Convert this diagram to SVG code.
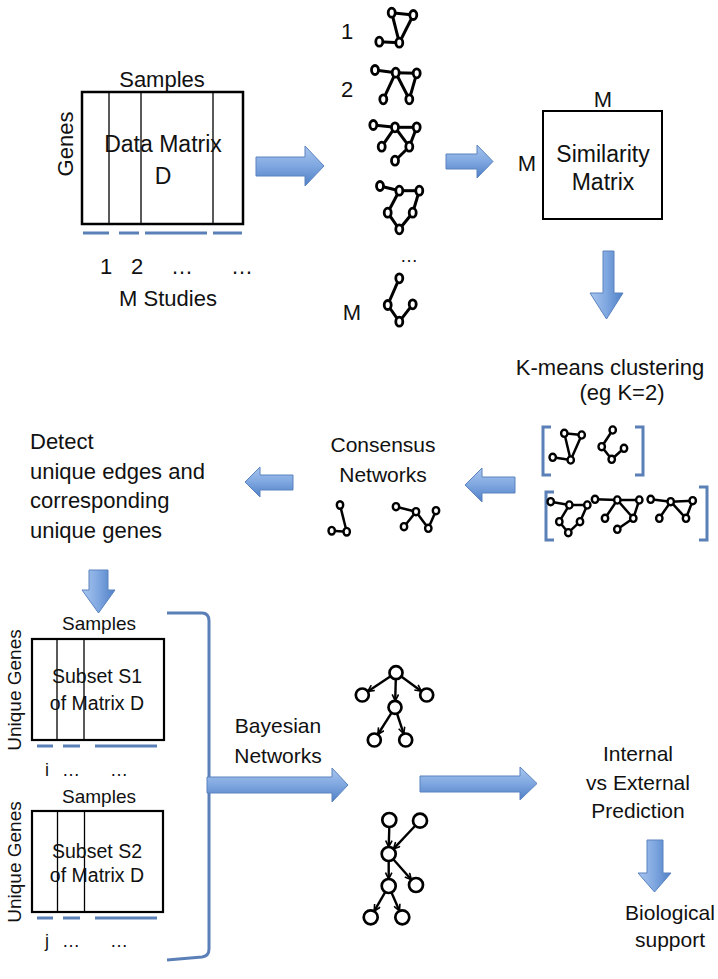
<svg xmlns="http://www.w3.org/2000/svg" width="718" height="979" viewBox="0 0 718 979">
<defs>
<linearGradient id="gh" x1="0" y1="0" x2="0" y2="1">
<stop offset="0" stop-color="#a9c6ef"/><stop offset="0.5" stop-color="#7fa7e0"/><stop offset="1" stop-color="#4f7fc6"/>
</linearGradient>
<linearGradient id="gv" x1="0" y1="0" x2="1" y2="0">
<stop offset="0" stop-color="#a9c6ef"/><stop offset="0.5" stop-color="#7fa7e0"/><stop offset="1" stop-color="#4f7fc6"/>
</linearGradient>
<marker id="ah" viewBox="0 0 10 10" refX="9" refY="5" markerWidth="8" markerHeight="8" markerUnits="userSpaceOnUse" orient="auto">
<path d="M1,1 L9,5 L1,9" fill="none" stroke="#000" stroke-width="2"/>
</marker>
<style>
text{font-family:"Liberation Sans",Arial,sans-serif;fill:#111;font-size:22px}
.m{text-anchor:middle}
.box{fill:#fff;stroke:#000;stroke-width:2.5}
.thin{stroke:#000;stroke-width:1.3}
.ul{stroke:#5b80b8;stroke-width:3;fill:none}
.ah{fill:url(#gh);stroke:#5a83bf;stroke-width:1}
.av{fill:url(#gv);stroke:#5a83bf;stroke-width:1}
.net line{stroke:#000;stroke-width:3}
.net ellipse{fill:#fff;stroke:#000;stroke-width:2.8}
.sm line{stroke:#000;stroke-width:2.5}
.sm ellipse{fill:#fff;stroke:#000;stroke-width:2.4}
.bn line{stroke:#000;stroke-width:2.4;marker-end:url(#ah)}
.bn circle{fill:#fff;stroke:#000;stroke-width:2.7}
</style>
</defs>
<rect width="718" height="979" fill="#fff"/>

<g id="data-matrix">
<text class="m" x="162" y="87">Samples</text>
<text class="m" transform="translate(73,144) rotate(-90)">Genes</text>
<rect class="box" x="82" y="92" width="161" height="132"/>
<line class="thin" x1="109" y1="92" x2="109" y2="224"/>
<line class="thin" x1="141" y1="92" x2="141" y2="224"/>
<line class="thin" x1="213" y1="92" x2="213" y2="224"/>
<text class="m" x="163" y="152" style="font-size:23px">Data Matrix</text>
<text class="m" x="163" y="184" style="font-size:23px">D</text>
<path class="ul" d="M83,233H109M119,233H139M145,233H207M213,233H242"/>
<text class="m" x="106" y="274">1</text>
<text class="m" x="137" y="274">2</text>
<text class="m" x="182" y="274">…</text>
<text class="m" x="242" y="274">…</text>
<text class="m" x="168" y="306">M Studies</text>
</g>

<g id="glasso-networks">
<text class="m" x="347" y="39">1</text>
<text class="m" x="347" y="97">2</text>
<g class="net">
<line x1="391.7" y1="12.7" x2="413.3" y2="15"/><line x1="413.3" y1="15" x2="399.3" y2="42.7"/><line x1="391.7" y1="12.7" x2="399.3" y2="42.7"/><line x1="399.3" y1="42.7" x2="379.3" y2="41.7"/>
<ellipse cx="391.7" cy="12.7" rx="3.5" ry="4.5"/><ellipse cx="413.3" cy="15" rx="3.5" ry="4.5"/><ellipse cx="399.3" cy="42.7" rx="3.5" ry="4.5"/><ellipse cx="379.3" cy="41.7" rx="3.5" ry="4.5"/>
</g>
<g class="net">
<line x1="375" y1="70" x2="395.7" y2="72.7"/><line x1="395.7" y1="72.7" x2="416.7" y2="73.3"/><line x1="395.7" y1="72.7" x2="383.3" y2="99.3"/><line x1="395.7" y1="72.7" x2="409.3" y2="99.3"/><line x1="416.7" y1="73.3" x2="409.3" y2="99.3"/>
<ellipse cx="375" cy="70" rx="3.5" ry="4.5"/><ellipse cx="395.7" cy="72.7" rx="3.5" ry="4.5"/><ellipse cx="416.7" cy="73.3" rx="3.5" ry="4.5"/><ellipse cx="383.3" cy="99.3" rx="3.5" ry="4.5"/><ellipse cx="409.3" cy="99.3" rx="3.5" ry="4.5"/>
</g>
<g class="net">
<line x1="373.3" y1="125" x2="395" y2="127.3"/><line x1="395" y1="127.3" x2="416.7" y2="127.3"/><line x1="395" y1="127.3" x2="381.7" y2="146.7"/><line x1="395" y1="127.3" x2="409.3" y2="146.7"/><line x1="416.7" y1="127.3" x2="409.3" y2="146.7"/><line x1="409.3" y1="146.7" x2="395" y2="160.7"/>
<ellipse cx="373.3" cy="125" rx="3.5" ry="4.5"/><ellipse cx="395" cy="127.3" rx="3.5" ry="4.5"/><ellipse cx="416.7" cy="127.3" rx="3.5" ry="4.5"/><ellipse cx="381.7" cy="146.7" rx="3.5" ry="4.5"/><ellipse cx="409.3" cy="146.7" rx="3.5" ry="4.5"/><ellipse cx="395" cy="160.7" rx="3.5" ry="4.5"/>
</g>
<g class="net">
<line x1="380" y1="186" x2="399.3" y2="190.7"/><line x1="399.3" y1="190.7" x2="419.3" y2="190.7"/><line x1="399.3" y1="190.7" x2="387.7" y2="212.7"/><line x1="419.3" y1="190.7" x2="412.7" y2="212.7"/><line x1="387.7" y1="212.7" x2="399.3" y2="229.3"/><line x1="412.7" y1="212.7" x2="399.3" y2="229.3"/>
<ellipse cx="380" cy="186" rx="3.5" ry="4.5"/><ellipse cx="399.3" cy="190.7" rx="3.5" ry="4.5"/><ellipse cx="419.3" cy="190.7" rx="3.5" ry="4.5"/><ellipse cx="387.7" cy="212.7" rx="3.5" ry="4.5"/><ellipse cx="412.7" cy="212.7" rx="3.5" ry="4.5"/><ellipse cx="399.3" cy="229.3" rx="3.5" ry="4.5"/>
</g>
<text class="m" x="409" y="262" style="font-size:18px">…</text>
<g class="net">
<line x1="399.3" y1="278.3" x2="387.7" y2="305"/><line x1="387.7" y1="305" x2="399.3" y2="321.7"/><line x1="399.3" y1="321.7" x2="412.7" y2="304.3"/>
<ellipse cx="399.3" cy="278.3" rx="3.5" ry="4.5"/><ellipse cx="387.7" cy="305" rx="3.5" ry="4.5"/><ellipse cx="412.7" cy="304.3" rx="3.5" ry="4.5"/><ellipse cx="399.3" cy="321.7" rx="3.5" ry="4.5"/>
</g>
<text class="m" x="352" y="320">M</text>
</g>

<g id="similarity-matrix">
<text class="m" x="603" y="107">M</text>
<text class="m" x="527" y="171">M</text>
<rect class="box" x="543" y="111" width="119" height="108" style="stroke-width:2"/>
<text class="m" x="603" y="162" style="font-size:23px">Similarity</text>
<text class="m" x="603" y="190" style="font-size:23px">Matrix</text>
</g>

<g id="kmeans-clustering">
<text class="m" x="610" y="375">K-means clustering</text>
<text class="m" x="622" y="400">(eg K=2)</text>
<path class="ul" d="M551,427H543V475H551M635,427H643V475H635M554,492H546V540H554M699,487H707V540H699"/>
<g class="sm">
<line x1="564.3" y1="433.3" x2="581.7" y2="435"/><line x1="581.7" y1="435" x2="570.7" y2="460"/><line x1="564.3" y1="433.3" x2="570.7" y2="460"/><line x1="570.7" y1="460" x2="552.7" y2="457.3"/>
<ellipse cx="564.3" cy="433.3" rx="3.2" ry="3.6"/><ellipse cx="581.7" cy="435" rx="3.2" ry="3.6"/><ellipse cx="570.7" cy="460" rx="3.2" ry="3.6"/><ellipse cx="552.7" cy="457.3" rx="3.2" ry="3.6"/>
</g>
<g class="sm">
<line x1="612.7" y1="430" x2="601.7" y2="446.7"/><line x1="601.7" y1="446.7" x2="611.7" y2="459.3"/><line x1="611.7" y1="459.3" x2="624" y2="448.3"/>
<ellipse cx="612.7" cy="430" rx="3.2" ry="3.6"/><ellipse cx="601.7" cy="446.7" rx="3.2" ry="3.6"/><ellipse cx="624" cy="448.3" rx="3.2" ry="3.6"/><ellipse cx="611.7" cy="459.3" rx="3.2" ry="3.6"/>
</g>
<g class="sm">
<line x1="550.7" y1="501.7" x2="569.3" y2="505"/><line x1="569.3" y1="505" x2="587.3" y2="505"/><line x1="569.3" y1="505" x2="559.3" y2="521.7"/><line x1="587.3" y1="505" x2="580" y2="521.7"/><line x1="559.3" y1="521.7" x2="568.3" y2="532.7"/><line x1="580" y1="521.7" x2="568.3" y2="532.7"/>
<ellipse cx="550.7" cy="501.7" rx="3.2" ry="3.6"/><ellipse cx="569.3" cy="505" rx="3.2" ry="3.6"/><ellipse cx="587.3" cy="505" rx="3.2" ry="3.6"/><ellipse cx="559.3" cy="521.7" rx="3.2" ry="3.6"/><ellipse cx="580" cy="521.7" rx="3.2" ry="3.6"/><ellipse cx="568.3" cy="532.7" rx="3.2" ry="3.6"/>
</g>
<g class="sm">
<line x1="595" y1="499.3" x2="617.3" y2="500"/><line x1="617.3" y1="500" x2="639.3" y2="500"/><line x1="617.3" y1="500" x2="605" y2="518.3"/><line x1="617.3" y1="500" x2="633.3" y2="518.3"/><line x1="639.3" y1="500" x2="633.3" y2="518.3"/><line x1="633.3" y1="518.3" x2="617.3" y2="529.3"/>
<ellipse cx="595" cy="499.3" rx="3.2" ry="3.6"/><ellipse cx="617.3" cy="500" rx="3.2" ry="3.6"/><ellipse cx="639.3" cy="500" rx="3.2" ry="3.6"/><ellipse cx="605" cy="518.3" rx="3.2" ry="3.6"/><ellipse cx="633.3" cy="518.3" rx="3.2" ry="3.6"/><ellipse cx="617.3" cy="529.3" rx="3.2" ry="3.6"/>
</g>
<g class="sm">
<line x1="650.7" y1="499.3" x2="670.7" y2="501.7"/><line x1="670.7" y1="501.7" x2="692.7" y2="500.7"/><line x1="670.7" y1="501.7" x2="659.3" y2="518.3"/><line x1="670.7" y1="501.7" x2="686" y2="518.3"/><line x1="692.7" y1="500.7" x2="686" y2="518.3"/>
<ellipse cx="650.7" cy="499.3" rx="3.2" ry="3.6"/><ellipse cx="670.7" cy="501.7" rx="3.2" ry="3.6"/><ellipse cx="692.7" cy="500.7" rx="3.2" ry="3.6"/><ellipse cx="659.3" cy="518.3" rx="3.2" ry="3.6"/><ellipse cx="686" cy="518.3" rx="3.2" ry="3.6"/>
</g>
</g>

<g id="consensus-networks">
<text class="m" x="383" y="452" style="font-size:21px">Consensus</text>
<text class="m" x="383" y="482" style="font-size:21px">Networks</text>
<g class="sm">
<line x1="340" y1="505" x2="346.7" y2="531.7"/><line x1="346.7" y1="531.7" x2="331.7" y2="530.7"/>
<ellipse cx="340" cy="505" rx="3.2" ry="3.8"/><ellipse cx="346.7" cy="531.7" rx="3.2" ry="3.8"/><ellipse cx="331.7" cy="530.7" rx="3.2" ry="3.8"/>
</g>
<g class="sm">
<line x1="396" y1="506.7" x2="416" y2="511.7"/><line x1="416" y1="511.7" x2="404" y2="526.7"/><line x1="416" y1="511.7" x2="428.3" y2="528.3"/><line x1="428.3" y1="528.3" x2="436" y2="510.7"/>
<ellipse cx="396" cy="506.7" rx="3.2" ry="3.6"/><ellipse cx="416" cy="511.7" rx="3.2" ry="3.6"/><ellipse cx="436" cy="510.7" rx="3.2" ry="3.6"/><ellipse cx="404" cy="526.7" rx="3.2" ry="3.6"/><ellipse cx="428.3" cy="528.3" rx="3.2" ry="3.6"/>
</g>
</g>

<g id="detect-unique">
<text x="30" y="449">Detect</text>
<text x="30" y="479">unique edges and</text>
<text x="30" y="508">corresponding</text>
<text x="30" y="538">unique genes</text>
</g>

<g id="subset-s1">
<text class="m" x="99" y="630" style="font-size:19px">Samples</text>
<text class="m" transform="translate(21,690) rotate(-90)" style="font-size:19px">Unique Genes</text>
<rect class="box" x="32" y="639" width="132" height="101" style="stroke-width:2.2"/>
<line class="thin" x1="57" y1="639" x2="57" y2="740"/>
<line class="thin" x1="84" y1="639" x2="84" y2="740"/>
<text class="m" x="97" y="683" style="font-size:19.5px">Subset S1</text>
<text class="m" x="97" y="710" style="font-size:19.5px">of Matrix D</text>
<path class="ul" d="M37,746H53M63,746H80M95,746H157"/>
<text class="m" x="47" y="776" style="font-size:18px">i</text>
<text class="m" x="71" y="776" style="font-size:18px">…</text>
<text class="m" x="119" y="776" style="font-size:18px">…</text>
</g>

<g id="subset-s2">
<text class="m" x="99" y="803" style="font-size:19px">Samples</text>
<text class="m" transform="translate(21,862) rotate(-90)" style="font-size:19px">Unique Genes</text>
<rect class="box" x="32" y="811" width="131" height="101" style="stroke-width:2.2"/>
<line class="thin" x1="57.5" y1="811" x2="57.5" y2="912"/>
<line class="thin" x1="84.5" y1="811" x2="84.5" y2="912"/>
<text class="m" x="97" y="858" style="font-size:19.5px">Subset S2</text>
<text class="m" x="97" y="882" style="font-size:19.5px">of Matrix D</text>
<path class="ul" d="M37,918H53M63,918H80M95,918H157"/>
<text class="m" x="47" y="947" style="font-size:18px">j</text>
<text class="m" x="71" y="947" style="font-size:18px">…</text>
<text class="m" x="119" y="947" style="font-size:18px">…</text>
</g>

<g id="bayesian-networks">
<text class="m" x="278" y="733" style="font-size:21px">Bayesian</text>
<text class="m" x="278" y="763" style="font-size:21px">Networks</text>
<g class="bn">
<line x1="390.6" y1="676.3" x2="367.7" y2="691.4"/>
<line x1="395.8" y1="679.2" x2="395.2" y2="700.8"/>
<line x1="401.3" y1="676.5" x2="421.4" y2="691.2"/>
<line x1="391.5" y1="712.8" x2="377.8" y2="734.5"/>
<line x1="397" y1="713.5" x2="403.7" y2="733.8"/>
<circle cx="396" cy="672.7" r="6.5"/><circle cx="362.3" cy="695" r="6.5"/><circle cx="426.7" cy="695" r="6.5"/><circle cx="395" cy="707.3" r="6.5"/><circle cx="374.3" cy="740" r="6.5"/><circle cx="405.7" cy="740" r="6.5"/>
</g>
<g class="bn">
<line x1="389.3" y1="827" x2="388.7" y2="847"/>
<line x1="415.2" y1="825.8" x2="393.5" y2="848.9"/>
<line x1="388.7" y1="861" x2="388.7" y2="879"/>
<line x1="393.3" y1="859.3" x2="411.4" y2="879.7"/>
<line x1="385.2" y1="892.1" x2="374.2" y2="911.2"/>
<line x1="391.5" y1="892.4" x2="399.5" y2="910.9"/>
<circle cx="389.3" cy="820" r="7"/><circle cx="420" cy="820.7" r="7"/><circle cx="388.7" cy="854" r="7"/><circle cx="416" cy="885" r="7"/><circle cx="388.7" cy="886" r="7"/><circle cx="370.7" cy="917.3" r="7"/><circle cx="402.3" cy="917.3" r="7"/>
</g>
</g>

<g id="prediction">
<text class="m" x="638" y="761" style="font-size:21px">Internal</text>
<text class="m" x="638" y="790" style="font-size:21px">vs External</text>
<text class="m" x="638" y="818" style="font-size:21px">Prediction</text>
</g>

<g id="biological-support">
<text class="m" x="670" y="920" style="font-size:21px">Biological</text>
<text class="m" x="670" y="947" style="font-size:21px">support</text>
</g>

<g id="connectors">
<polygon class="ah" points="256,157 305,157 305,146 324,166 305,186 305,176 256,176"/>
<polygon class="ah" points="446,154 477,154 477,145 493,161.5 477,178 477,169 446,169"/>
<polygon class="av" points="603,251 614,251 614,293 623,293 606.5,319 590,293 603,293"/>
<polygon class="ah" points="515,477 482,477 482,468 465,485 482,502 482,493 515,493"/>
<polygon class="ah" points="293,475 260,475 260,467 245,482 260,497 260,490 293,490"/>
<polygon class="av" points="89,570 108,570 108,590 115,590 98.5,613 82,590 89,590"/>
<path class="ul" d="M167,613H202Q209,613 209,621V949Q209,956 202,957L167,960"/>
<polygon class="ah" points="207,777 332,777 332,768 348,785 332,802 332,793 207,793"/>
<polygon class="ah" points="420,776 520,776 520,767 537,783.5 520,800 520,792 420,792"/>
<polygon class="av" points="647,840 663,840 663,873 671,873 654.5,892 638,873 647,873"/>
</g>
</svg>
